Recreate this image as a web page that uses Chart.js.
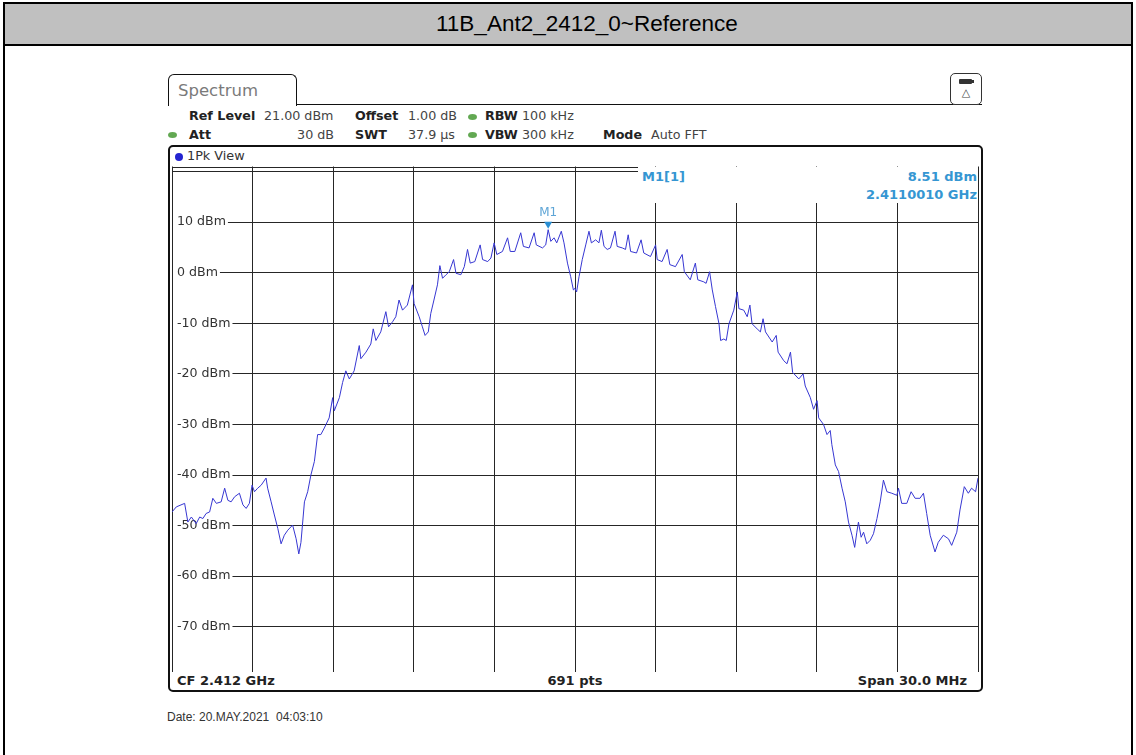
<!DOCTYPE html>
<html>
<head>
<meta charset="utf-8">
<title>11B_Ant2_2412_0~Reference</title>
<script src="https://cdn.jsdelivr.net/npm/chart.js@4.4.1/dist/chart.umd.min.js"></script>
<style>
  html, body { margin: 0; padding: 0; background: #fff; }
  #page { position: relative; width: 1136px; height: 755px; overflow: hidden; font-family: "DejaVu Sans", sans-serif; }
  .abs { position: absolute; white-space: nowrap; }
  #outer { left: 3px; top: 2px; width: 1126px; height: 800px; border: 2px solid #000; }
  #titlebar { left: 5px; top: 4px; width: 1126px; height: 40px; background: #c0c0c0; border-bottom: 2px solid #000;
              font-family: "Liberation Sans", Arial, sans-serif; font-size: 22.5px; color: #000; line-height: 40px; }
  #titlebar span { position: absolute; left: 431px; top: 0; }
  #tab { left: 168px; top: 74px; width: 127px; height: 31px; border: 1.5px solid #111; border-bottom: none;
         border-radius: 6px 6px 0 0; background: #fff; }
  #tab span { position: absolute; left: 9px; top: 6px; font-size: 16.5px; color: #7a7a7a; line-height: 20px; }
  #tabline { left: 296px; top: 104px; width: 686px; height: 0; border-top: 1.5px solid #111; }
  #icon { left: 950px; top: 73px; width: 30px; height: 30px; border: 1px solid #333; border-radius: 5px; background: #fff; }
  #icon .bat { position: absolute; left: 8px; top: 5px; width: 13px; height: 5px; background: #333; border-radius: 1px; }
  #icon .bat2 { position: absolute; left: 21px; top: 6px; width: 2px; height: 3px; background: #333; }
  #icon .tri { position: absolute; left: 0; top: 12px; width: 30px; text-align: center; font-size: 11px; color: #444; line-height: 14px; }
  .hdr { font-size: 12.7px; line-height: 16px; color: #444; }
  .hdr b { color: #222; }
  .gdot { width: 9px; height: 6px; border-radius: 50%; background: #62a852; }
  #win { left: 168px; top: 145px; width: 811px; height: 543px; border: 2px solid #111; border-radius: 5px; }
  #pk { left: 175px; top: 148px; font-size: 12.8px; line-height: 16px; color: #333; }
  #pk i { display: inline-block; width: 8px; height: 8px; border-radius: 50%; background: #2424d0; margin-right: 4px; vertical-align: -0.5px; }
  #plotWrap { left: 0; top: 0; width: 1136px; height: 755px; z-index: 1; }
  #mkbox { left: 638px; top: 167px; width: 340px; height: 36px; background: #fff; z-index: 2;
           font-weight: bold; font-size: 13px; color: #3596d2; line-height: 16px; }
  #mkname { position: absolute; left: 4px; top: 2px; }
  #mklevel { position: absolute; right: 1px; top: 2px; }
  #mkfreq { position: absolute; right: 1px; top: 20px; }
  .foot { font-weight: bold; font-size: 13px; line-height: 16px; color: #222; top: 673px; }
  #date { left: 167px; top: 709px; font-family: "Liberation Sans", Arial, sans-serif; font-size: 12px; line-height: 16px; color: #333; }
</style>
</head>
<body>
<div id="page">
  <div id="outer" class="abs"></div>
  <div id="titlebar" class="abs"><span>11B_Ant2_2412_0~Reference</span></div>

  <div id="tab" class="abs"><span>Spectrum</span></div>
  <div id="tabline" class="abs"></div>
  <div id="icon" class="abs"><div class="bat"></div><div class="bat2"></div><div class="tri">△</div></div>

  <div class="abs hdr" style="left:189px; top:108px;"><b>Ref Level</b></div>
  <div class="abs hdr" style="left:264px; top:108px;">21.00 dBm</div>
  <div class="abs hdr" style="left:355px; top:108px;"><b>Offset</b></div>
  <div class="abs hdr" style="left:408px; top:108px;">1.00 dB</div>
  <div class="abs gdot" style="left:468px; top:114px;"></div>
  <div class="abs hdr" style="left:485px; top:108px;"><b>RBW</b></div>
  <div class="abs hdr" style="left:522px; top:108px;">100 kHz</div>

  <div class="abs gdot" style="left:168px; top:132px;"></div>
  <div class="abs hdr" style="left:189px; top:127px;"><b>Att</b></div>
  <div class="abs hdr" style="left:284px; top:127px; width:50px; text-align:right;">30 dB</div>
  <div class="abs hdr" style="left:355px; top:127px;"><b>SWT</b></div>
  <div class="abs hdr" style="left:408px; top:127px;">37.9 µs</div>
  <div class="abs gdot" style="left:468px; top:132px;"></div>
  <div class="abs hdr" style="left:485px; top:127px;"><b>VBW</b></div>
  <div class="abs hdr" style="left:522px; top:127px;">300 kHz</div>
  <div class="abs hdr" style="left:603px; top:127px;"><b>Mode</b></div>
  <div class="abs hdr" style="left:651px; top:127px;">Auto FFT</div>

  <div id="win" class="abs"></div>
  <div id="pk" class="abs"><i></i>1Pk View</div>

  <div id="plotWrap" class="abs"><canvas id="spec" width="1136" height="755"></canvas></div>

  <div id="mkbox" class="abs">
    <span id="mkname"></span>
    <span id="mklevel"></span>
    <span id="mkfreq"></span>
  </div>

  <div class="abs foot" style="left:177px;">CF 2.412 GHz</div>
  <div class="abs foot" style="left:525px; width:100px; text-align:center;">691 pts</div>
  <div class="abs foot" style="left:767px; width:200px; text-align:right;">Span 30.0 MHz</div>

  <div id="date" class="abs">Date: 20.MAY.2021&nbsp;&nbsp;04:03:10</div>
</div>

<script>
// Sweep: centre frequency 2.412 GHz, span 30 MHz, trace values in dBm
const centreGHz = 2.412;
const spanMHz = 30;

// Frequency offset from centre (MHz) for each trace sample
const freqOffsetMHz = [
  -15.00, -14.84, -14.53, -14.41, -14.28, -14.10, -13.97, -13.85, -13.73, -13.60,
  -13.48, -13.35, -13.17, -13.04, -12.92, -12.80, -12.67, -12.49, -12.36, -12.24,
  -12.12, -12.02, -11.93, -11.81, -11.68, -11.50, -11.44, -11.31, -11.19, -11.06,
  -10.94, -10.82, -10.69, -10.51, -10.38, -10.28, -10.20, -10.07, -9.95, -9.83,
  -9.70, -9.58, -9.46, -9.33, -9.15, -9.02, -8.96, -8.77, -8.65, -8.53,
  -8.40, -8.22, -8.03, -7.97, -7.78, -7.60, -7.51, -7.41, -7.23, -7.04,
  -6.94, -6.79, -6.67, -6.55, -6.42, -6.24, -6.05, -5.99, -5.80, -5.68,
  -5.58, -5.46, -5.37, -5.25, -5.12, -5.03, -4.93, -4.80, -4.68, -4.52,
  -4.43, -4.25, -4.12, -4.00, -3.90, -3.73, -3.53, -3.44, -3.25, -3.13,
  -3.01, -2.91, -2.70, -2.51, -2.41, -2.24, -2.02, -1.92, -1.71, -1.52,
  -1.44, -1.21, -1.09, -0.999, -0.90, -0.78, -0.68, -0.51, -0.41, -0.28,
  -0.16, -0.06, 0.00, 0.06, 0.15, 0.27, 0.40, 0.52, 0.61, 0.77,
  0.89, 0.98, 1.08, 1.20, 1.32, 1.49, 1.57, 1.76, 1.88, 1.98,
  2.07, 2.29, 2.46, 2.56, 2.81, 3.00, 3.06, 3.24, 3.43, 3.53,
  3.74, 3.99, 4.07, 4.29, 4.48, 4.57, 4.79, 4.88, 5.01, 5.11,
  5.23, 5.36, 5.42, 5.54, 5.63, 5.73, 5.91, 6.04, 6.10, 6.28,
  6.41, 6.51, 6.59, 6.78, 6.90, 7.00, 7.09, 7.34, 7.49, 7.56,
  7.77, 7.89, 8.02, 8.10, 8.33, 8.49, 8.57, 8.76, 8.88, 9.01,
  9.07, 9.25, 9.38, 9.50, 9.56, 9.69, 9.81, 9.94, 10.06, 10.18,
  10.31, 10.41, 10.49, 10.55, 10.65, 10.74, 10.86, 10.99, 11.11, 11.24,
  11.36, 11.48, 11.61, 11.79, 11.98, 12.04, 12.16, 12.35, 12.51, 12.66,
  12.84, 12.97, 13.09, 13.22, 13.40, 13.52, 13.71, 13.90, 14.02, 14.21,
  14.33, 14.49, 14.64, 14.76, 14.91, 15.00
];

// Measured level (dBm) for each sample above
const levelDbm = [
  -47.3, -46.3, -45.6, -49.3, -48.3, -49.6, -48.3, -48.6, -47.6, -47.3,
  -44.6, -45.6, -45.3, -42.6, -45.0, -45.3, -44.3, -43.6, -45.9, -46.6,
  -45.6, -42.0, -43.3, -42.6, -42.0, -40.6, -42.6, -45.3, -47.9, -50.6,
  -53.6, -51.9, -50.9, -49.9, -52.6, -55.6, -53.3, -45.3, -43.3, -40.0,
  -37.3, -32.0, -32.0, -30.7, -28.7, -24.7, -27.3, -24.7, -21.7, -19.4,
  -21.0, -19.4, -14.4, -17.0, -15.7, -14.1, -11.1, -13.4, -11.7, -7.7,
  -10.7, -9.7, -8.7, -5.4, -7.4, -6.4, -2.4, -6.1, -8.7, -10.7,
  -12.4, -11.7, -8.1, -5.4, -2.4, 1.4, -1.1, -0.4, 0.2, 2.6,
  -0.1, -0.4, 1.2, 4.6, 1.9, 2.2, 5.5, 2.6, 2.2, 2.9,
  5.9, 3.6, 4.2, 6.9, 4.2, 4.2, 7.9, 5.2, 4.9, 7.9,
  5.5, 4.9, 5.5, 8.51, 6.2, 6.9, 5.9, 8.2, 5.9, 1.9,
  -0.8, -3.4, -3.1, -3.8, -0.8, 2.6, 5.5, 8.2, 5.9, 6.5,
  5.9, 8.4, 5.2, 4.6, 4.9, 8.2, 5.2, 4.9, 4.6, 7.5,
  4.2, 3.9, 6.5, 3.9, 3.2, 5.5, 2.6, 2.2, 4.6, 1.6,
  1.2, 3.6, 0.2, -1.4, 1.9, -1.4, -1.8, -2.1, 0.2, -3.4,
  -6.7, -10.1, -13.4, -13.1, -13.4, -10.1, -7.4, -3.8, -7.1, -7.4,
  -8.7, -6.4, -10.1, -11.1, -11.7, -9.1, -11.7, -13.7, -12.4, -15.7,
  -17.4, -18.0, -15.7, -19.7, -21.0, -20.0, -22.4, -24.7, -27.0, -25.3,
  -28.7, -30.0, -32.0, -31.2, -34.0, -38.0, -39.3, -42.6, -45.3, -49.3,
  -51.9, -54.3, -51.3, -49.3, -52.3, -51.3, -53.6, -52.9, -51.6, -48.6,
  -45.3, -41.0, -43.3, -43.6, -44.0, -42.6, -45.6, -45.6, -43.3, -44.6,
  -44.6, -43.6, -47.6, -51.9, -55.2, -53.3, -51.9, -52.6, -53.9, -51.3,
  -46.9, -42.3, -43.6, -42.6, -43.3, -40.6
];

// Reference level and display range (10 dB / division, 10 divisions)
const refLevelDbm = 21;
const rangeDb = 100;

// Level grid lines and the ones that carry a label
const levelGridDbm = [20, 10, 0, -10, -20, -30, -40, -50, -60, -70];
const levelLabelDbm = [10, 0, -10, -20, -30, -40, -50, -60, -70];

// Marker M1
const markerNames = ['M1'];
const markerFreqGHz = [2.4110010];
const markerLevelDbm = [8.51];

const markerOffsetMHz = markerFreqGHz.map(f => (f - centreGHz) * 1000);

document.getElementById('mkname').textContent = markerNames[0] + '[1]';
document.getElementById('mklevel').textContent = markerLevelDbm[0].toFixed(2) + ' dBm';
document.getElementById('mkfreq').textContent = markerFreqGHz[0].toFixed(7) + ' GHz';

const traceColor = '#3737d2';
const gridColor = '#262626';
const labelPad = 5;

// Draws the marker triangle and its name just above the marked sample
const markerPlugin = {
  id: 'markerM1',
  afterDatasetsDraw(chart) {
    const { ctx, scales: { x, y } } = chart;
    ctx.save();
    markerNames.forEach((name, i) => {
      const px = x.getPixelForValue(markerOffsetMHz[i]);
      const py = y.getPixelForValue(markerLevelDbm[i]);
      ctx.fillStyle = '#2a8fd4';
      ctx.beginPath();
      ctx.moveTo(px - 4, py - 8);
      ctx.lineTo(px + 4, py - 8);
      ctx.lineTo(px, py - 1);
      ctx.closePath();
      ctx.fill();
      ctx.font = '12px "DejaVu Sans"';
      ctx.fillStyle = '#5ea5d6';
      ctx.textAlign = 'center';
      ctx.textBaseline = 'middle';
      ctx.fillText(name, px, py - 17);
    });
    ctx.restore();
  }
};

// Top edge of the diagram at the reference level
const frameTopPlugin = {
  id: 'frameTop',
  beforeDatasetsDraw(chart) {
    const { ctx, chartArea } = chart;
    const yTop = Math.round(chart.scales.y.getPixelForValue(refLevelDbm)) + 0.5;
    ctx.save();
    ctx.strokeStyle = gridColor;
    ctx.lineWidth = 1;
    ctx.beginPath();
    ctx.moveTo(chartArea.left, yTop);
    ctx.lineTo(chartArea.right, yTop);
    ctx.stroke();
    ctx.restore();
  }
};

new Chart(document.getElementById('spec'), {
  type: 'line',
  data: {
    datasets: [{
      label: 'Trace 1',
      data: freqOffsetMHz.map((f, i) => ({ x: f, y: levelDbm[i] })),
      borderColor: traceColor,
      borderWidth: 1,
      pointRadius: 0,
      tension: 0,
      fill: false
    }]
  },
  options: {
    responsive: false,
    animation: false,
    events: [],
    // the mirrored level axis still reserves 2 x tick padding on the left
    layout: { padding: { left: 172 - 2 * labelPad, top: 166.5, right: 158, bottom: 82.7 } },
    plugins: { legend: { display: false }, tooltip: { enabled: false } },
    scales: {
      x: {
        type: 'linear',
        min: -spanMHz / 2,
        max: spanMHz / 2,
        border: { display: false },
        grid: { color: gridColor, lineWidth: 1, drawTicks: false },
        ticks: { display: false, stepSize: spanMHz / 10 }
      },
      y: {
        type: 'linear',
        min: refLevelDbm - rangeDb,
        max: refLevelDbm,
        border: { display: false },
        grid: { color: gridColor, lineWidth: 1, drawTicks: false },
        afterBuildTicks(scale) {
          scale.ticks = levelGridDbm.map(v => ({ value: v }));
        },
        ticks: {
          mirror: true,
          padding: labelPad,
          color: '#333',
          font: { family: 'DejaVu Sans', size: 12.6 },
          callback: v => levelLabelDbm.includes(v) ? v + ' dBm' : '',
          showLabelBackdrop: ctx => levelLabelDbm.includes(ctx.tick.value),
          backdropColor: '#ffffff',
          backdropPadding: { left: 4, right: 2, top: 1, bottom: 1 }
        }
      }
    }
  },
  plugins: [frameTopPlugin, markerPlugin]
});
</script>
</body>
</html>
